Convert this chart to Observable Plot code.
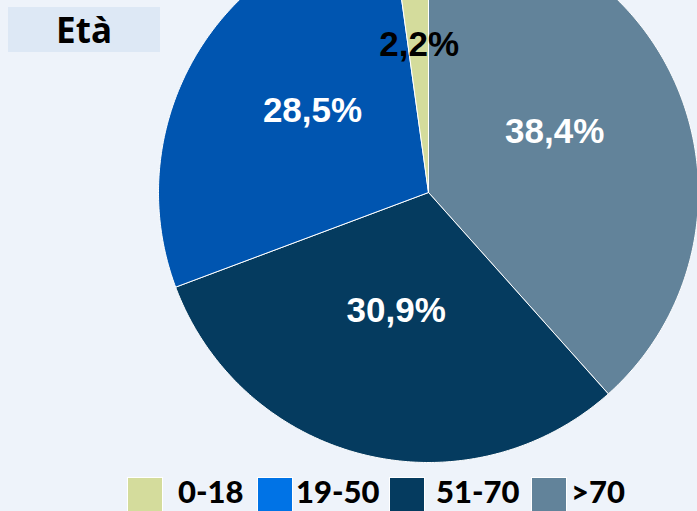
<!DOCTYPE html>
<html>
<head>
<meta charset="utf-8">
<script src="https://cdn.jsdelivr.net/npm/d3@7"></script>
<script src="https://cdn.jsdelivr.net/npm/@observablehq/plot@0.6"></script>
<style>
  html, body { margin: 0; padding: 0; overflow: hidden; }
  #wrap { position: relative; width: 697px; height: 511px; background: #eef3fa; overflow: hidden; }
  #chart { position: absolute; left: 0; top: 0; }
  #title { position: absolute; left: 8px; top: 7px; width: 152px; height: 45px; background: #dde8f5;
    font-family: "Noto Sans", sans-serif; font-weight: 700; font-size: 35px; line-height: 45px; color: #000;
    text-align: center; }
  #legend { position: absolute; left: 0; top: 0; width: 697px; height: 511px;
    font-family: "Lato", sans-serif; font-weight: 900; font-size: 31px; color: #000; }
  #legend .sw { position: absolute; top: 477px; width: 36px; height: 36px; border: 1px solid #fff; box-sizing: border-box; }
  #legend .lb { position: absolute; top: 472px; line-height: 38px; white-space: nowrap; }
</style>
</head>
<body>
<div id="wrap">
  <div id="chart"></div>
  <div id="title">Età</div>
  <div id="legend"></div>
</div>
<script>
const categories = ["0-18", "19-50", "51-70", ">70"];
const values = [2.2, 28.5, 30.9, 38.4];
const valueLabels = ["2,2%", "28,5%", "30,9%", "38,4%"];
const sliceColors = ["#d4dc9c", "#0055b0", "#053b5f", "#62839a"];
const legendColors = ["#d4dc9c", "#0073e6", "#053b5f", "#62839a"];
const labelColors = ["#000000", "#ffffff", "#ffffff", "#ffffff"];
// clockwise order from 12 o'clock
const pieOrder = [">70", "51-70", "19-50", "0-18"];

const total = d3.sum(values);
const slices = [];
let start = 0;
for (const key of pieOrder) {
  const i = categories.indexOf(key);
  const span = values[i] / total * 2 * Math.PI;
  slices.push({key, i, a0: start, a1: start + span});
  start += span;
}

const pts = [];
for (const s of slices) {
  pts.push({key: s.key, x: 0, y: 0});
  const n = Math.max(4, Math.ceil((s.a1 - s.a0) / 0.01));
  for (let k = 0; k <= n; k++) {
    const a = s.a0 + (s.a1 - s.a0) * k / n;
    pts.push({key: s.key, x: Math.sin(a), y: Math.cos(a)});
  }
  pts.push({key: s.key, x: 0, y: 0});
}

const labelR = 0.5;
const labelData = slices.map(s => {
  const m = (s.a0 + s.a1) / 2;
  return {key: s.key, text: valueLabels[s.i], fill: labelColors[s.i], x: labelR * Math.sin(m), y: labelR * Math.cos(m)};
});

const chart = Plot.plot({
  width: 697,
  height: 511,
  margin: 0,
  style: {background: "transparent", overflow: "visible"},
  x: {domain: [-1, 1], range: [158, 698], axis: null},
  y: {domain: [-1, 1], range: [462, -78], axis: null},
  color: {domain: categories, range: sliceColors},
  marks: [
    Plot.line(pts, {x: "x", y: "y", z: "key", fill: "key", stroke: "#ffffff", strokeWidth: 1, curve: "linear"}),
    Plot.text(labelData, {x: "x", y: "y", text: "text", fill: d => d.fill, dy: -13,
      fontFamily: "Liberation Sans, Arial, sans-serif", fontWeight: 700, fontSize: 35})
  ]
});
document.getElementById("chart").appendChild(chart);

// legend layout (pixel positions of swatches and labels)
const swatchLeft = [127, 257, 389, 531];
const labelLeft = [178, 296, 436, 571];
const legend = document.getElementById("legend");
categories.forEach((c, i) => {
  const sw = document.createElement("div");
  sw.className = "sw";
  sw.style.background = legendColors[i];
  sw.style.left = swatchLeft[i] + "px";
  const lb = document.createElement("div");
  lb.className = "lb";
  lb.style.left = labelLeft[i] + "px";
  lb.textContent = c;
  legend.appendChild(sw);
  legend.appendChild(lb);
});
</script>
</body>
</html>
